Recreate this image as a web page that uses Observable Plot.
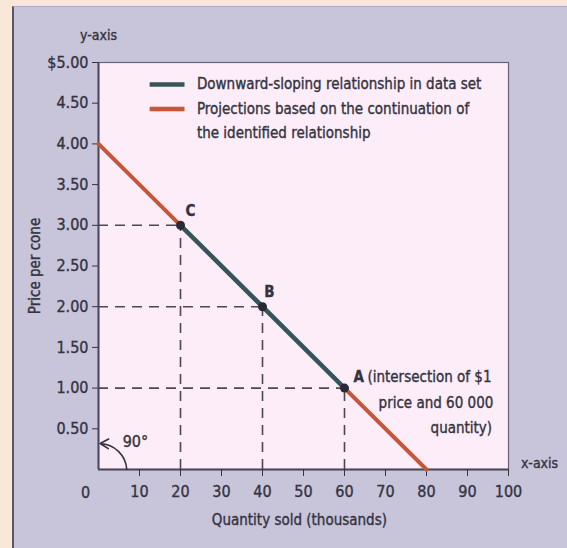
<!DOCTYPE html>
<html>
<head>
<meta charset="utf-8">
<script src="https://cdn.jsdelivr.net/npm/d3@7"></script>
<script src="https://cdn.jsdelivr.net/npm/@observablehq/plot@0.6"></script>
<style>
  html, body { margin: 0; padding: 0; }
  body { width: 567px; height: 548px; background: #f9e8d8; position: relative; overflow: hidden; }
  #panel { position: absolute; left: 12px; top: 6px; width: 560px; height: 560px;
    background: #c8c4da; border-left: 2px solid #5a5868; border-top: 1px solid #b0aac6; }
  #chart { position: absolute; left: 0; top: 0; }
  svg text { font-family: "Liberation Sans Narrow", "DejaVu Sans Condensed", "Roboto Condensed", sans-serif;
    stroke: #34333f; stroke-width: 0.35px; }
</style>
</head>
<body>
<div id="panel"></div>
<div id="chart"></div>
<script>
const xTicks = [10, 20, 30, 40, 50, 60, 70, 80, 90, 100];
const yTicks = [0.5, 1, 1.5, 2, 2.5, 3, 3.5, 4, 4.5, 5];
const yTickLabels = ["0.50", "1.00", "1.50", "2.00", "2.50", "3.00", "3.50", "4.00", "4.50", "$5.00"];

// Data-set relationship (observed) and projections
const dataSetQty = [20, 40, 60];
const dataSetPrice = [3, 2, 1];
const projLowQty = [0, 20];
const projLowPrice = [4, 3];
const projHighQty = [60, 80];
const projHighPrice = [1, 0];
const pointNames = ["C", "B", "A"];

const legendLabels = ["Downward-sloping relationship in data set", "Projections based on the continuation of", "the identified relationship"];

const teal = "#35555b";
const red = "#c65638";
const ink = "#34333f";

const dataSet = dataSetQty.map((q, i) => ({q, p: dataSetPrice[i], name: pointNames[i]}));
const projLow = projLowQty.map((q, i) => ({q, p: projLowPrice[i]}));
const projHigh = projHighQty.map((q, i) => ({q, p: projHighPrice[i]}));

const plot = Plot.plot({
  width: 567,
  height: 548,
  marginLeft: 98,
  marginRight: 59,
  marginTop: 62,
  marginBottom: 79,
  style: { background: "transparent", color: ink, fontSize: "16px" },
  x: { domain: [0, 100], label: null },
  y: { domain: [0, 5], label: null },
  marks: [
    Plot.frame({ fill: "#fcedf8", stroke: "#6a6478", strokeWidth: 1.2 }),
    // dashed guides
    Plot.ruleY(dataSet, { y: "p", x1: 0, x2: "q", stroke: "#4a4856", strokeWidth: 1.6, strokeDasharray: "10,7" }),
    Plot.ruleX(dataSet, { x: "q", y1: 0, y2: "p", stroke: "#4a4856", strokeWidth: 1.6, strokeDasharray: "10,7" }),
    // axes lines
    Plot.ruleX([0], { stroke: "#4a4856", strokeWidth: 2 }),
    Plot.ruleY([0], { stroke: "#4a4856", strokeWidth: 2 }),
    Plot.axisY({ ticks: yTicks, tickFormat: (d) => yTickLabels[yTicks.indexOf(d)], tickSize: 6, tickPadding: 4, fontSize: 16, stroke: ink, label: null }),
    Plot.axisX({ ticks: xTicks, tickSize: 7, tickPadding: 9, fontSize: 16, stroke: ink, label: null }),
    Plot.text(["0"], { x: 0, y: 0, dx: -13, dy: 23, fontSize: 16, fill: ink }),
    // lines
    Plot.line(projLow, { x: "q", y: "p", stroke: red, strokeWidth: 4 }),
    Plot.line(projHigh, { x: "q", y: "p", stroke: red, strokeWidth: 4 }),
    Plot.line(dataSet, { x: "q", y: "p", stroke: teal, strokeWidth: 4.5 }),
    Plot.dot(dataSet, { x: "q", y: "p", r: 4.5, fill: "#2a2a36" }),
    Plot.text(dataSet.slice(0, 1), { x: "q", y: "p", text: "name", dx: 10, dy: -14, fontSize: 15, fontWeight: "bold", fill: ink }),
    Plot.text(dataSet.slice(1, 2), { x: "q", y: "p", text: "name", dx: 7, dy: -15, fontSize: 15, fontWeight: "bold", fill: ink }),
    // legend
    Plot.ruleY([0], { x1: 12.6, x2: 21.1, y: 4.73, stroke: teal, strokeWidth: 4.5 }),
    Plot.ruleY([0], { x1: 12.6, x2: 21.1, y: 4.43, stroke: red, strokeWidth: 4.5 }),
    Plot.text(legendLabels, { x: 24, y: [4.73, 4.43, 4.13], textAnchor: "start", fontSize: 15, fill: ink }),
    // annotation for A
    Plot.text(["A"], { x: 62.2, y: 1.14, textAnchor: "start", fontSize: 15, fontWeight: "bold", fill: ink }),
    Plot.text(["(intersection of $1"], { x: 65.6, y: 1.14, textAnchor: "start", fontSize: 15, fill: ink }),
    Plot.text(["price and 60 000"], { x: 96.3, y: 0.82, textAnchor: "end", fontSize: 15, fill: ink }),
    Plot.text(["quantity)"], { x: 88.5, y: 0.51, textAnchor: "middle", fontSize: 15, fill: ink }),
    // 90 degree arc
    Plot.arrow([0], { x1: 6.9, y1: 0, x2: 0.4, y2: 0.32, bend: -42, stroke: ink, strokeWidth: 1.6, headLength: 9 }),
    Plot.text(["90°"], { x: 9, y: 0.34, fontSize: 16, fill: ink }),
    // axis titles
    Plot.text(["y-axis"], { x: 0, y: 5, dy: -27, fontSize: 14, fill: ink }),
    Plot.text(["x-axis"], { x: 100, y: 0, dx: 31, dy: -6, fontSize: 14, fill: ink }),
    Plot.text(["Quantity sold (thousands)"], { x: 49, y: 0, dy: 51, fontSize: 15, fill: ink }),
    Plot.text(["Price per cone"], { x: 0, y: 2.5, dx: -63, rotate: -90, fontSize: 15, fill: ink })
  ]
});
document.getElementById("chart").appendChild(plot);
</script>
</body>
</html>
